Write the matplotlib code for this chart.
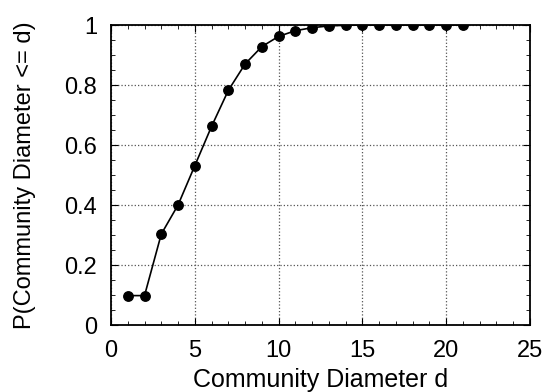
import matplotlib

matplotlib.use("Agg")
import matplotlib.pyplot as plt
from matplotlib.ticker import MultipleLocator

plt.rcParams["font.family"] = ["Liberation Sans", "DejaVu Sans"]

diameter = list(range(1, 22))
prob = [0.098, 0.098, 0.303, 0.400, 0.531, 0.662, 0.782, 0.870, 0.928, 0.962,
        0.981, 0.991, 0.997, 0.999, 1.0, 1.0, 1.0, 1.0, 1.0, 1.0, 1.0]

fig = plt.figure(figsize=(5.47, 3.92), dpi=100)
ax = fig.add_axes([111 / 547, 1 - 325 / 392, 419 / 547, 300 / 392])

ax.plot(diameter, prob, "-o", color="black", lw=1.2, markersize=6.8)

ax.set_xlim(0, 25)
ax.set_ylim(0, 1)
ax.xaxis.set_major_locator(MultipleLocator(5))
ax.xaxis.set_minor_locator(MultipleLocator(1))
ax.yaxis.set_minor_locator(MultipleLocator(0.05))
ax.set_yticks([0, 0.2, 0.4, 0.6, 0.8, 1])
ax.set_yticklabels(["0", "0.2", "0.4", "0.6", "0.8", "1"])
ax.tick_params(which="both", direction="in", top=True, right=True, labelsize=17)
ax.tick_params(which="major", length=5)
ax.tick_params(which="minor", length=3)
ax.tick_params(axis="x", pad=11)
ax.tick_params(axis="y", pad=10)
ax.grid(True, which="major", linestyle=":", color="#555555", lw=0.9)
for s in ax.spines.values():
    s.set_linewidth(1.3)

ax.set_xlabel("Community Diameter d", fontsize=18, labelpad=4)
ax.set_ylabel("P(Community Diameter <= d)", fontsize=17, labelpad=20)

fig.savefig("out.png", dpi=100, facecolor="white")
